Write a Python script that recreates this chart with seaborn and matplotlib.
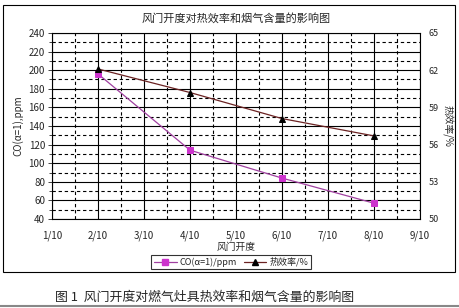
import matplotlib
matplotlib.use("Agg")
import matplotlib.pyplot as plt
import seaborn as sns
import pandas as pd
from matplotlib.ticker import MultipleLocator, FixedLocator
from matplotlib.patches import Rectangle
from matplotlib.lines import Line2D

# data
x_pos = [2, 4, 6, 8]
co_ppm = [196, 114, 84, 57]
efficiency = [62.1, 60.2, 58.1, 56.7]
x_ticks = [1, 2, 3, 4, 5, 6, 7, 8, 9]
x_labels = ["1/10", "2/10", "3/10", "4/10", "5/10", "6/10", "7/10", "8/10", "9/10"]
right_ticks = [50, 53, 56, 59, 62, 65]

sns.set_style("white")
plt.rcParams['font.family'] = ['Noto Sans CJK SC', 'DejaVu Sans']

fig = plt.figure(figsize=(4.59, 3.08), dpi=100)
fig.patch.set_facecolor("white")
ax = fig.add_axes([52/459, 1-219/308, (420-52)/459, (219-33)/308])

df_co = pd.DataFrame({"x": x_pos, "y": co_ppm})
df_eff = pd.DataFrame({"x": x_pos, "y": efficiency})

sns.lineplot(data=df_co, x="x", y="y", ax=ax, color="#A040A0", lw=0.9,
             marker="s", markersize=5, markerfacecolor="#CC33CC",
             markeredgecolor="#CC33CC", zorder=5)
ax.set_xlim(1, 9)
ax.set_ylim(40, 240)
ax.yaxis.set_major_locator(MultipleLocator(20))
ax.yaxis.set_minor_locator(MultipleLocator(10))
ax.xaxis.set_major_locator(FixedLocator(x_ticks))
ax.set_xticklabels(x_labels)
ax.xaxis.set_minor_locator(MultipleLocator(0.5))
ax.grid(which="major", color="black", lw=0.8, ls="-")
ax.grid(which="minor", color="black", lw=0.8, ls=(0, (3, 2.5)))
ax.tick_params(axis="both", which="major", labelsize=7, length=3, width=0.6, direction="out", pad=2)
ax.tick_params(axis="y", which="minor", length=2, width=0.6, direction="out", left=True)
ax.tick_params(axis="x", which="minor", length=0)
ax.tick_params(axis="y", which="major", left=True)
ax.tick_params(axis="x", which="major", bottom=False, pad=5)
for s in ax.spines.values():
    s.set_color("black")
    s.set_linewidth(0.8)
ax.set_xlabel("风门开度", fontsize=7, labelpad=1)
ax.set_ylabel("CO(α=1),ppm", fontsize=7, labelpad=4)
ax.set_title("风门开度对热效率和烟气含量的影响图", fontsize=8, pad=8)

ax2 = ax.twinx()
sns.lineplot(data=df_eff, x="x", y="y", ax=ax2, color="#6B2222", lw=0.9,
             marker="^", markersize=5, markerfacecolor="black",
             markeredgecolor="black", zorder=5)
ax2.set_ylim(50, 65)
ax2.yaxis.set_major_locator(FixedLocator(right_ticks))
ax2.tick_params(axis="y", labelsize=6.5, length=0, pad=6)
ax2.set_ylabel("热效率/%", fontsize=7, rotation=-90, labelpad=10)
ax2.grid(False)
for s in ax2.spines.values():
    s.set_visible(False)

handles = [
    Line2D([], [], color="#A040A0", lw=0.9, marker="s", markersize=4,
           markerfacecolor="#CC33CC", markeredgecolor="#CC33CC"),
    Line2D([], [], color="#6B2222", lw=0.9, marker="^", markersize=4,
           markerfacecolor="black", markeredgecolor="black"),
]
leg = fig.legend(handles, ["CO(α=1)/ppm", "热效率/%"], loc="center",
                 bbox_to_anchor=(231/459, 1-262/308), ncol=2, fontsize=6.5,
                 frameon=True, fancybox=False, edgecolor="black",
                 handlelength=2.5, columnspacing=0.8, borderpad=0.3,
                 handletextpad=0.3)
leg.get_frame().set_linewidth(0.8)

fig.patches.append(Rectangle((3/459, 1-272/308), 452/459, 267/308,
                             transform=fig.transFigure, fill=False,
                             edgecolor="black", lw=0.8))
fig.text(55/459, 1-297/308, "图 1  风门开度对燃气灶具热效率和烟气含量的影响图",
         fontsize=9.3, ha="left", va="center")
fig.add_artist(Line2D([0, 1], [1-306/308, 1-306/308], transform=fig.transFigure,
                      color="#888888", lw=1.5))

fig.savefig("out.png", dpi=100, facecolor="white")
